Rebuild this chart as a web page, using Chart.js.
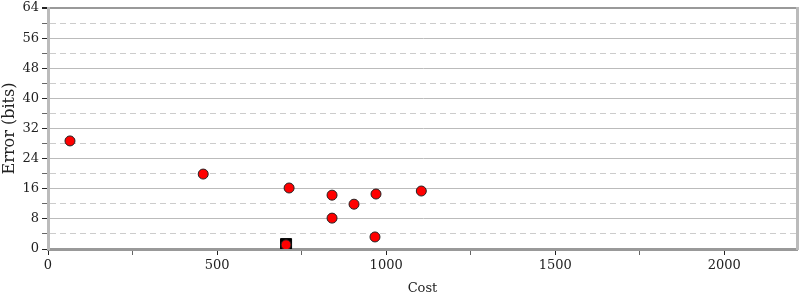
<!DOCTYPE html>
<html>
<head>
<meta charset="utf-8">
<script src="https://cdn.jsdelivr.net/npm/chart.js@4"></script>
<style>
html,body{margin:0;padding:0;background:#fff}
#wrap{width:800px;height:300px;position:relative}
</style>
</head>
<body>
<div id="wrap"><canvas id="c"></canvas></div>
<script>
// ---- data ----
var costs=[65,459,713,840,905,970,1104,840,967,704];
var errors=[28.7,19.9,16.2,14.3,11.9,14.6,15.4,8.2,3.2,1.1];
var bestCost=[704], bestError=[1.3];
var xTicks=[0,250,500,750,1000,1250,1500,1750,2000];
var yTicks=[0,4,8,12,16,20,24,28,32,36,40,44,48,52,56,60,64];

var serif='"DejaVu Serif", serif';
function pts(xs,ys){return xs.map(function(x,i){return {x:x,y:ys[i]};});}
function isMajorY(v){return v%8===0;}

Chart.defaults.font.family=serif;
Chart.defaults.font.size=13;
Chart.defaults.color='#222';

new Chart(document.getElementById('c'),{
 type:'scatter',
 data:{datasets:[
  {label:'best',data:pts(bestCost,bestError),pointStyle:'rect',pointRadius:7.8,backgroundColor:'#000',borderColor:'#000',borderWidth:1,order:2},
  {label:'runs',data:pts(costs,errors),pointRadius:5,backgroundColor:'#ff0000',borderColor:'#222',borderWidth:1,order:1}
 ]},
 options:{
  responsive:true,maintainAspectRatio:false,animation:false,
  layout:{autoPadding:false,padding:{top:8,left:0,right:0,bottom:0}},
  plugins:{legend:{display:false},tooltip:{enabled:false}},
  scales:{
   x:{type:'linear',min:0,max:2215,position:'bottom',
    afterBuildTicks:function(s){s.ticks=xTicks.map(function(v){return {value:v};});},
    afterFit:function(s){s.height=51;s.paddingLeft=0;s.paddingRight=0;},
    ticks:{maxRotation:0,padding:3,autoSkip:false,callback:function(v){return v%500===0?v:'';}},
    grid:{drawOnChartArea:false,tickLength:6,tickColor:function(c){return c.tick&&c.tick.value%500===0?'#222':'#666';}},
    border:{color:'#999',width:3},
    title:{display:true,text:'Cost',font:{size:13},padding:{top:13}}
   },
   y:{type:'linear',min:0,max:64,position:'left',
    afterBuildTicks:function(s){s.ticks=yTicks.map(function(v){return {value:v};});},
    afterFit:function(s){s.width=48;s.paddingTop=0;s.paddingBottom=0;},
    ticks:{autoSkip:false,padding:3,callback:function(v){return isMajorY(v)?v:'';}},
    grid:{
     color:function(c){var v=c.tick?c.tick.value:0;if(v===64||v===0)return '#999';return isMajorY(v)?'#bbb':'#ccc';},
     lineWidth:function(c){var v=c.tick?c.tick.value:0;return (v===64)?2:1;},
     tickLength:6,
     tickColor:function(c){return c.tick&&isMajorY(c.tick.value)?'#222':'#666';}
    },
    border:{color:'#bbb',width:3,dash:function(c){return c.tick&&!isMajorY(c.tick.value)?[6,4]:[];}},
    title:{display:true,text:'Error (bits)',font:{size:16},padding:{top:0,bottom:0}}
   },
   yr:{type:'linear',min:0,max:64,position:'right',
    afterBuildTicks:function(s){s.ticks=yTicks.map(function(v){return {value:v};});},
    afterFit:function(s){s.width=3;s.paddingTop=0;s.paddingBottom=0;},
    ticks:{display:false},
    grid:{drawOnChartArea:false,tickLength:0,tickColor:'#666'},
    border:{color:'#bbb',width:3}
   }
  }
 }
});
</script>
</body>
</html>
